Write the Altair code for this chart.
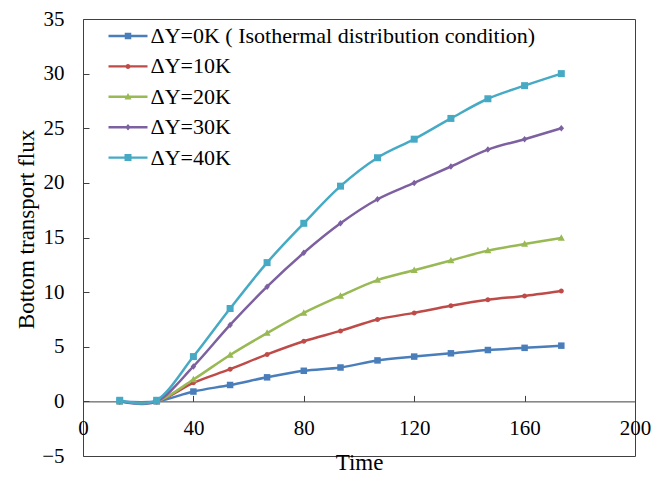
import altair as alt
import pandas as pd

# ---- data ----
times = [13.3, 26.7, 40, 53.3, 66.7, 80, 93.3, 106.7, 120, 133.3, 146.7, 160, 173.3]
series_names = [
    "ΔY=0K ( Isothermal distribution condition)",
    "ΔY=10K",
    "ΔY=20K",
    "ΔY=30K",
    "ΔY=40K",
]
flux_0k = [0, 0, 0.9, 1.5, 2.2, 2.8, 3.1, 3.75, 4.1, 4.4, 4.7, 4.9, 5.1]
flux_10k = [0, 0, 1.7, 2.95, 4.3, 5.5, 6.45, 7.5, 8.1, 8.75, 9.3, 9.65, 10.1]
flux_20k = [0, 0, 2.0, 4.25, 6.25, 8.1, 9.65, 11.1, 12.0, 12.9, 13.8, 14.4, 14.95]
flux_30k = [0, 0, 3.2, 7.0, 10.5, 13.6, 16.3, 18.5, 20.0, 21.5, 23.05, 24.0, 25.0]
flux_40k = [0.1, 0.1, 4.1, 8.5, 12.7, 16.3, 19.7, 22.3, 24.0, 25.9, 27.7, 28.9, 30.0]
x_ticks = [0, 40, 80, 120, 160, 200]
y_ticks = [-5, 0, 5, 10, 15, 20, 25, 30, 35]

# ---- styles ----
colors = ["#4A7EBB", "#BE4B48", "#98B954", "#7D60A0", "#46AAC5"]
marker_paths = [
    "M-0.65,-0.65L0.65,-0.65L0.65,0.65L-0.65,0.65Z",
    "M-0.5,0A0.5,0.5 0 1,1 0.5,0A0.5,0.5 0 1,1 -0.5,0Z",
    "M0,-0.75L0.7,0.55L-0.7,0.55Z",
    "M0,-0.65L0.55,0L0,0.65L-0.55,0Z",
    "M-0.7,-0.7L0.7,-0.7L0.7,0.7L-0.7,0.7Z",
]
line_path = "M-3.9,-0.24L3.9,-0.24L3.9,0.24L-3.9,0.24Z"
legend_paths = [line_path + m for m in marker_paths]

FONT = "Liberation Serif"
W, H = 552, 437
XMIN, XMAX = 0, 200
YMIN, YMAX = -5, 35
AX = "#404040"

rows = []
for name, vals in zip(series_names, [flux_0k, flux_10k, flux_20k, flux_30k, flux_40k]):
    for t, v in zip(times, vals):
        rows.append({"time": t, "flux": v, "series": name})
df = pd.DataFrame(rows)

xscale = alt.Scale(domain=[XMIN, XMAX], nice=False, zero=False)
yscale = alt.Scale(domain=[YMIN, YMAX], nice=False, zero=False)
cscale = alt.Scale(domain=series_names, range=colors)

zero_from_bottom = H * (0 - YMIN) / (YMAX - YMIN)
zero_from_top = H * (YMAX - 0) / (YMAX - YMIN)

base = alt.Chart(df)

lines = base.mark_line(interpolate="cardinal", strokeWidth=2.5).encode(
    x=alt.X(
        "time:Q",
        scale=xscale,
        axis=alt.Axis(
            orient="bottom",
            offset=-zero_from_bottom,
            values=x_ticks,
            ticks=False,
            tickSize=0,
            labelPadding=16,
            labelFlush=False,
            labelOverlap=False,
            grid=False,
            domain=True,
            domainColor=AX,
            domainWidth=1,
            labelFont=FONT,
            labelFontSize=21,
            labelColor="black",
            title="Time",
            titleFont=FONT,
            titleFontSize=23,
            titleFontWeight="normal",
            titleColor="black",
            titleX=W / 2,
            titleY=68,
            titleBaseline="alphabetic",
            titleAlign="center",
        ),
    ),
    y=alt.Y(
        "flux:Q",
        scale=yscale,
        axis=alt.Axis(
            orient="left",
            values=y_ticks,
            ticks=False,
            tickSize=0,
            labelPadding=19,
            labelFlush=False,
            labelOverlap=False,
            grid=False,
            domain=False,
            labelFont=FONT,
            labelFontSize=21,
            labelColor="black",
            title="Bottom transport flux",
            titleFont=FONT,
            titleFontSize=23,
            titleFontWeight="normal",
            titleColor="black",
            titleAngle=270,
            titleX=-50,
            titleY=210,
            titleBaseline="alphabetic",
            titleAlign="center",
        ),
    ),
    color=alt.Color("series:N", scale=cscale, legend=None),
    detail="series:N",
)

points = base.mark_point(filled=True, size=100, opacity=1, strokeWidth=0).encode(
    x=alt.X(
        "time:Q",
        scale=xscale,
        axis=alt.Axis(
            orient="top",
            offset=-zero_from_top,
            values=x_ticks,
            labels=False,
            domain=False,
            ticks=True,
            tickSize=6,
            tickColor=AX,
            tickWidth=1,
            grid=False,
            title=None,
        ),
    ),
    y=alt.Y(
        "flux:Q",
        scale=yscale,
        axis=alt.Axis(
            orient="right",
            offset=-W,
            values=y_ticks,
            labels=False,
            domain=False,
            ticks=True,
            tickSize=6,
            tickColor=AX,
            tickWidth=1,
            grid=False,
            title=None,
        ),
    ),
    color=alt.Color("series:N", scale=cscale, legend=None),
    shape=alt.Shape("series:N", scale=alt.Scale(domain=series_names, range=marker_paths), legend=None),
)

leg = alt.Legend(
    title=None,
    orient="none",
    legendX=34,
    legendY=6,
    direction="vertical",
    labelFont=FONT,
    labelFontSize=22,
    labelColor="black",
    labelLimit=600,
    symbolSize=100,
    symbolStrokeWidth=0,
    symbolOpacity=1,
    rowPadding=8.4,
    labelOffset=11.5,
    padding=0,
)

legend_layer = base.mark_point(filled=True, size=100, opacity=0, strokeWidth=0).encode(
    x=alt.X("time:Q", scale=xscale, axis=None),
    y=alt.Y("flux:Q", scale=yscale, axis=None),
    color=alt.Color("series:N", scale=cscale, legend=leg, sort=series_names),
    shape=alt.Shape(
        "series:N",
        scale=alt.Scale(domain=series_names, range=legend_paths),
        legend=leg,
        sort=series_names,
    ),
)

chart = (
    alt.layer(lines, points, legend_layer)
    .resolve_scale(x="independent", y="independent", color="independent", shape="independent")
    .properties(
        width=W,
        height=H,
        autosize=alt.AutoSizeParams(type="none"),
        padding={"left": 75, "top": 11, "right": 22, "bottom": 21},
        background="white",
    )
    .configure(font=FONT)
    .configure_axis(labelFont=FONT, titleFont=FONT)
    .configure_legend(labelFont=FONT)
    .configure_view(stroke=AX, strokeWidth=1)
)

chart.save("out.html", embed_options={"renderer": "svg", "actions": False})
